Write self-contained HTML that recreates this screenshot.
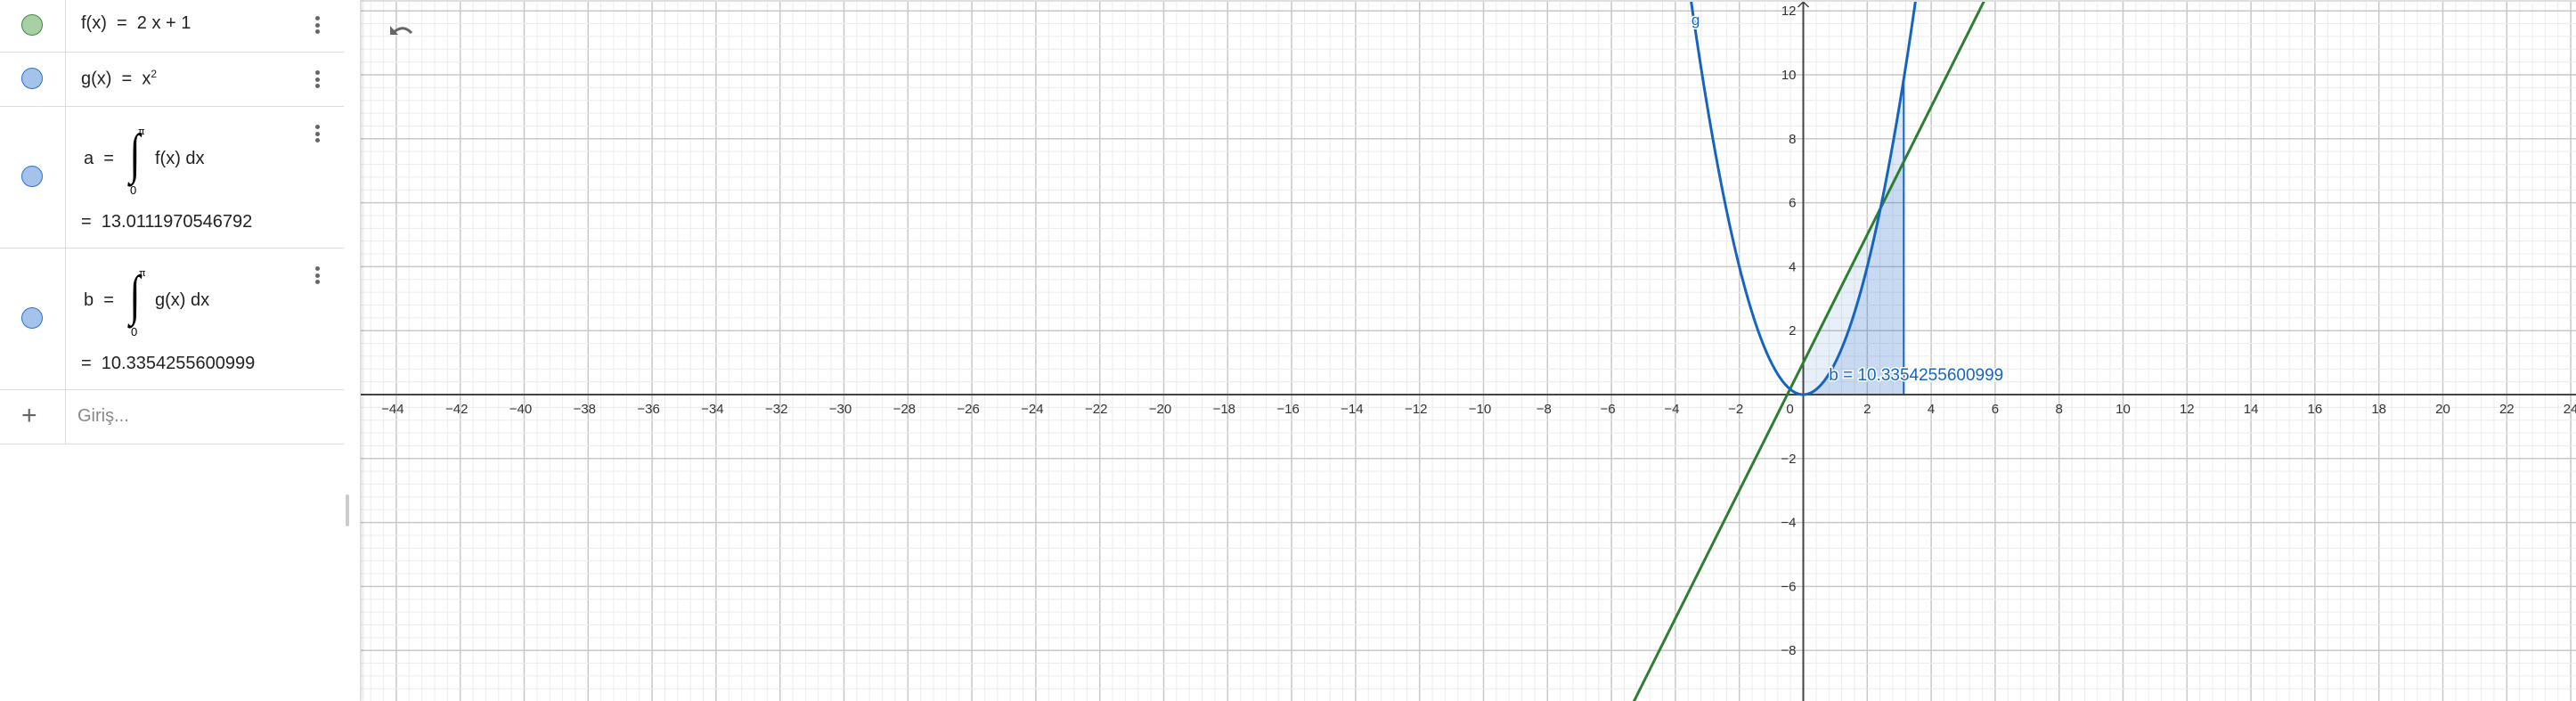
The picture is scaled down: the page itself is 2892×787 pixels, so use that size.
<!DOCTYPE html>
<html><head><meta charset="utf-8">
<style>
html,body{margin:0;padding:0;width:2892px;height:787px;overflow:hidden;background:#fff;font-family:"Liberation Sans","DejaVu Sans",sans-serif;}
#side{position:absolute;left:0;top:0;width:404px;height:787px;background:#fff;border-right:1px solid #ddd;box-shadow:2px 0 4px rgba(0,0,0,0.12);z-index:2}
.row{position:absolute;left:0;width:386px;border-bottom:1px solid #ddd}
.mk{position:absolute;left:0;top:0;width:73px;height:100%;border-right:1px solid #ddd}
.dot{position:absolute;left:24px;width:22px;height:22px;border-radius:50%}
.g{background:#a9cfa7;border:1.5px solid #3d8a3c}
.b{background:#a4c2ea;border:1.5px solid #2f6fcf}
.tx{position:absolute;left:91px;font-size:20px;color:#222;white-space:nowrap}
.menu{position:absolute;left:354px;width:5px}
.menu i{display:block;width:5px;height:5px;border-radius:50%;background:#666;margin-bottom:2.5px}
#graph{position:absolute;left:0;top:0;display:block}
.int{position:absolute;left:143px;top:22px;font-size:62px;font-family:'Liberation Serif',serif;font-style:italic;line-height:62px;transform:scaleX(0.7)}
</style></head><body>
<svg id="graph" width="2892" height="787" xmlns="http://www.w3.org/2000/svg"></svg>
<div id="side">
 <div class="row" style="top:0;height:58px">
  <div class="mk"><div class="dot g" style="top:16px"></div></div>
  <div class="tx" style="top:15px">f(x)&nbsp; = &nbsp;2 x + 1</div>
  <div class="menu" style="top:18px"><i></i><i></i><i></i></div>
 </div>
 <div class="row" style="top:59px;height:60px">
  <div class="mk"><div class="dot b" style="top:17px"></div></div>
  <div class="tx" style="top:17px">g(x)&nbsp; = &nbsp;x<sup style="font-size:12px">2</sup></div>
  <div class="menu" style="top:20px"><i></i><i></i><i></i></div>
 </div>
 <div class="row" style="top:120px;height:158px">
  <div class="mk"><div class="dot b" style="top:66px"></div></div>
  <div class="tx" style="left:94px;top:47px">a &nbsp;=</div>
  <div class="int">∫</div>
  <div class="tx" style="left:174px;top:47px">f(x) dx</div>
  <div style="position:absolute;left:155px;top:22px;font-size:11px">π</div>
  <div style="position:absolute;left:146px;top:86px;font-size:13px">0</div>
  <div class="tx" style="top:118px">= &nbsp;13.0111970546792</div>
  <div class="menu" style="top:20px"><i></i><i></i><i></i></div>
 </div>
 <div class="row" style="top:279px;height:158px">
  <div class="mk"><div class="dot b" style="top:66px"></div></div>
  <div class="tx" style="left:94px;top:47px">b &nbsp;=</div>
  <div class="int">∫</div>
  <div class="tx" style="left:174px;top:47px">g(x) dx</div>
  <div style="position:absolute;left:156px;top:22px;font-size:11px">π</div>
  <div style="position:absolute;left:147px;top:86px;font-size:13px">0</div>
  <div class="tx" style="top:118px">= &nbsp;10.3354255600999</div>
  <div class="menu" style="top:20px"><i></i><i></i><i></i></div>
 </div>
 <div class="row" style="top:438px;height:60px">
  <div class="mk"><div style="position:absolute;left:24px;top:17px;font-size:30px;color:#666;line-height:24px">+</div></div>
  <div class="tx" style="left:87px;top:18px;color:#888">Giriş...</div>
 </div>
 <div style="position:absolute;left:388px;top:555px;width:4px;height:36px;background:#ccc;border-radius:2px"></div>
</div>
<script>
const xTicks=[-44,-42,-40,-38,-36,-34,-32,-30,-28,-26,-24,-22,-20,-18,-16,-14,-12,-10,-8,-6,-4,-2,0,2,4,6,8,10,12,14,16,18,20,22,24];
const yTicks=[-8,-6,-4,-2,2,4,6,8,10,12];
const fSlope=[2], fIntercept=[1];
const gCoef=[1];
const integralBounds=[0,3.14159];
const bValueLabel=["b = 10.3354255600999"];
const svg=document.getElementById('graph');
const NS='http://www.w3.org/2000/svg';
const X0=2024.5,Y0=443,U=35.9;
const sx=x=>X0+x*U, sy=y=>Y0-y*U;
function el(t,a,p){const e=document.createElementNS(NS,t);for(const k in a)e.setAttribute(k,a[k]);(p||svg).appendChild(e);return e;}
const f=x=>fSlope[0]*x+fIntercept[0], g=x=>gCoef[0]*x*x;
const grid=el('g',{});


for(let i=-140;i<=140;i++){const xv=i*0.4;const px=sx(xv);if(px<400||px>2892)continue;const major=i%5===0;
 el('line',{x1:px,y1:0,x2:px,y2:787,stroke:major?'#c8c8c8':'#ececec','stroke-width':major?1.5:1},grid);}
for(let i=-40;i<=40;i++){const yv=i*0.4;const py=sy(yv);if(py<0||py>787)continue;const major=i%5===0;
 el('line',{x1:400,y1:py,x2:2892,y2:py,stroke:major?'#c8c8c8':'#ececec','stroke-width':major?1.5:1},grid);}
let pf=`M${sx(integralBounds[0])},${sy(0)}`,pg=pf;
for(let i=0;i<=100;i++){const x=integralBounds[0]+(integralBounds[1]-integralBounds[0])*i/100;pf+=` L${sx(x)},${sy(f(x))}`;pg+=` L${sx(x)},${sy(g(x))}`;}
pf+=` L${sx(integralBounds[1])},${sy(0)} Z`;pg+=` L${sx(integralBounds[1])},${sy(0)} Z`;
const ra=el('path',{d:pf,fill:'rgba(21,101,192,0.1)',stroke:'rgba(21,101,192,0.3)','stroke-width':1});


const rb=el('path',{d:pg,fill:'rgba(21,101,192,0.15)',stroke:'#1565c0','stroke-width':2});


const ax=el('line',{x1:400,y1:Y0,x2:2892,y2:Y0,stroke:'#444','stroke-width':2});


const ay=el('line',{x1:X0,y1:0,x2:X0,y2:787,stroke:'#444','stroke-width':2});


el('path',{d:`M${X0-6},8 L${X0},2 L${X0+6},8`,fill:'none',stroke:'#444','stroke-width':1.5});
xTicks.forEach(t=>{const lab=t===0?'0':(t<0?'\u2212'+(-t):String(t));
 const e=el('text',{x:sx(t)+(t===0?-15:(t<0?-4:0)),y:Y0+21,'font-size':15,'fill':'#333','text-anchor':'middle','font-family':'Liberation Sans, sans-serif'});
 e.textContent=lab;
 
 });
yTicks.forEach(t=>{const e=el('text',{x:X0-8,y:sy(t)+5,'font-size':15,'fill':'#333','text-anchor':'end','font-family':'Liberation Sans, sans-serif'});
 e.textContent=t<0?'\u2212'+(-t):String(t);
 
 });
let df='',dg='';
for(let i=0;i<=600;i++){const x=-8+16*i/600;df+=(i?'L':'M')+sx(x)+','+sy(f(x))+' ';}
let first=true;for(let i=0;i<=800;i++){const x=-4+8*i/800;const y=g(x);if(y>14)continue;dg+=(first?'M':'L')+sx(x)+','+sy(y)+' ';first=false;}
const lf=el('path',{d:df,fill:'none',stroke:'#2e7d32','stroke-width':3});


const lg=el('path',{d:dg,fill:'none',stroke:'#1565c0','stroke-width':3});


const gl=el('text',{x:sx(-3.5),y:28,'font-size':17,fill:'#1565c0',stroke:'#fff','stroke-width':3,'paint-order':'stroke','font-family':'Liberation Sans, sans-serif'});
gl.textContent='g';


const bl=el('text',{x:sx(0.8),y:sy(0)-16,'font-size':19,fill:'#1565c0',stroke:'#fff','stroke-width':3,'paint-order':'stroke','font-family':'Liberation Sans, sans-serif'});
bl.textContent=bValueLabel[0];


const u=el('path',{d:'M440,38 Q452,26 462,37',fill:'none',stroke:'#666','stroke-width':3});


el('path',{d:'M438,29 L438,39 L447,39 Z',fill:'#666'});
el('rect',{x:400,y:0,width:2492,height:2,fill:'#e0e0e0'});
</script>
</body></html>
